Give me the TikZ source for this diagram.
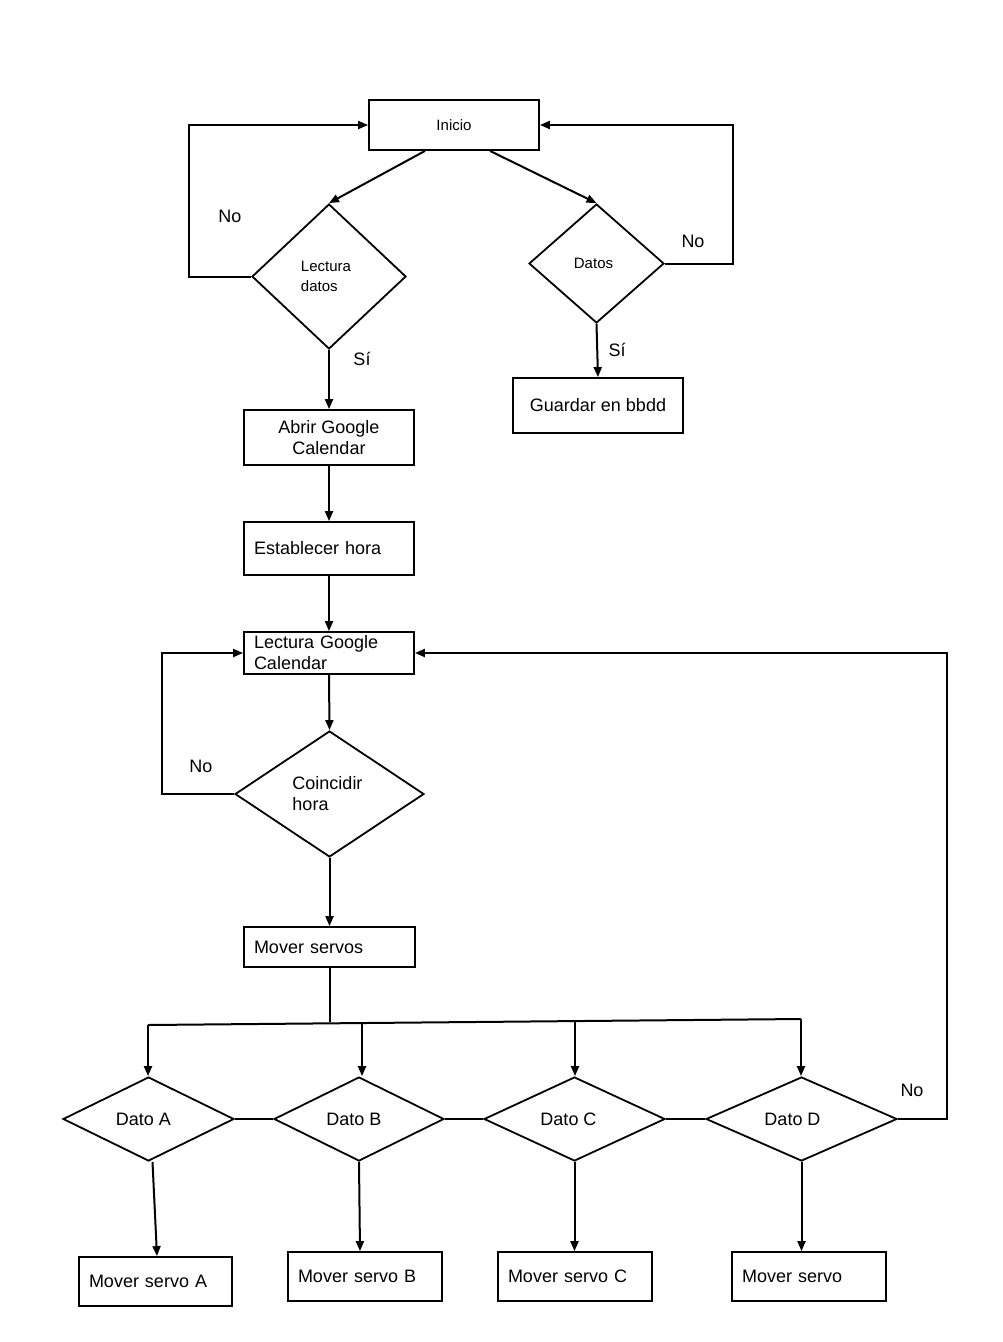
\documentclass[tikz,border=0pt]{standalone}
\usepackage{fontspec}
\setmainfont{Liberation Sans}
\usetikzlibrary{shapes.geometric,arrows.meta}
\newcommand\bigf{\fontsize{18}{21}\selectfont}
\newcommand\smallf{\fontsize{15}{20}\selectfont}
\begin{document}
\begin{tikzpicture}[x=1pt,y=-1pt,
  ln/.style={line width=2pt},
  arr/.style={ln, -{Triangle[length=10pt,width=8pt]}},
  box/.style={draw, rectangle, line width=1.8pt, inner sep=0pt, align=center, font=\bigf},
  lbox/.style={box, align=left, text width=#1, inner xsep=10pt, inner ysep=0pt},
  dia/.style={draw, diamond, line width=1.8pt, inner sep=0pt},
  lab/.style={font=\bigf, inner sep=0pt}
]
\useasboundingbox (0,0) rectangle (1002,1342);

% top part
\node[box, minimum width=170pt, minimum height=50pt, font=\smallf] (ini) at (454,125) {Inicio};
\node[dia, minimum width=154pt, minimum height=145pt,
      label={[font=\smallf, align=left, xshift=-3pt]center:Lectura\\datos}] (ld) at (329,276.5) {};
\node[dia, minimum width=135pt, minimum height=119pt,
      label={[font=\smallf, xshift=-3pt]center:Datos}] (dt) at (596.5,263.5) {};
\node[box, minimum width=170pt, minimum height=55pt] (gu) at (598,405.5) {Guardar en bbdd};
\node[box, minimum width=170pt, minimum height=55pt] (ab) at (329,437.5) {Abrir Google\\Calendar};
\node[lbox=150pt, minimum height=53pt] (es) at (329,548.5) {Establecer hora};
\node[lbox=150pt, minimum height=42pt] (lgc) at (329,653) {Lectura Google\\Calendar};
\node[dia, minimum width=189pt, minimum height=126pt,
      label={[font=\bigf, align=left, xshift=-2pt]center:Coincidir\\hora}] (coin) at (329.5,794) {};
\node[lbox=151pt, minimum height=40pt] (ms) at (329.5,947) {Mover servos};

% decision row
\node[dia, minimum width=171pt, minimum height=84pt,
      label={[font=\bigf, xshift=-5pt]center:Dato A}] (dA) at (148.5,1119) {};
\node[dia, minimum width=170pt, minimum height=84pt,
      label={[font=\bigf, xshift=-5pt]center:Dato B}] (dB) at (359,1119) {};
\node[dia, minimum width=181pt, minimum height=84pt,
      label={[font=\bigf, xshift=-6pt]center:Dato C}] (dC) at (574.5,1119) {};
\node[dia, minimum width=191pt, minimum height=84pt,
      label={[font=\bigf, xshift=-9pt]center:Dato D}] (dD) at (801.5,1119) {};

% servo boxes
\node[lbox=133pt, minimum height=49pt] (sA) at (155.5,1281.5) {Mover servo A};
\node[lbox=134pt, minimum height=49pt] (sB) at (365,1276.5) {Mover servo B};
\node[lbox=134pt, minimum height=49pt] (sC) at (575,1276.5) {Mover servo C};
\node[lbox=134pt, minimum height=49pt] (sD) at (809,1276.5) {Mover servo};

% labels
\node[lab] (n1) at (230,216) {No};
\node[lab] (n2) at (693,241) {No};
\node[lab] (y1) at (362,359) {Sí};
\node[lab] (y2) at (617,350) {Sí};
\node[lab] (n3) at (201,766) {No};
\node[lab] (n4) at (912,1090) {No};

% connectors top
\draw[arr] ([xshift=-29pt]ini.south) -- (ld.north);
\draw[arr] ([xshift=36pt]ini.south) -- (dt.north);
\draw[arr] (ld.west) -- ++(-62,0) |- (ini.west);
\draw[arr] (dt.east) -- ++(68,0) |- (ini.east);
\draw[arr] (dt.south) -- (gu.north);
\draw[arr] (ld.south) -- (ab.north);
\draw[arr] (ab.south) -- (es.north);
\draw[arr] (es.south) -- (lgc.north);
\draw[arr] (lgc.south) -- (coin.north);
\draw[arr] (coin.west) -- ++(-72,0) |- (lgc.west);
\draw[arr] (coin.south) -- (ms.north);

% bus
\coordinate (bM) at (329.5,1022);
\coordinate (bA) at (148,1025);
\coordinate (bB) at (362,1023.4);
\coordinate (bC) at (575,1021.5);
\coordinate (bD) at (801,1019);
\draw[ln] (ms.south) -- (bM);
\draw[ln] (bA) -- (bD);
\draw[arr] (bA) -- (bA |- dA.north);
\draw[arr] (bB) -- (bB |- dB.north);
\draw[arr] (bC) -- (bC |- dC.north);
\draw[arr] (bD) -- (bD |- dD.north);

% chain of decisions
\draw[ln] (dA.east) -- (dB.west);
\draw[ln] (dB.east) -- (dC.west);
\draw[ln] (dC.east) -- (dD.west);
\draw[arr] (dD.east) -- ++(49,0) |- (lgc.east);

% to servo boxes
\draw[arr] ([xshift=4pt]dA.south) -- ([xshift=1.5pt]sA.north);
\draw[arr] (dB.south) -- ([xshift=-5pt]sB.north);
\draw[arr] (dC.south) -- (dC.south |- sC.north);
\draw[arr] (dD.south) -- (dD.south |- sD.north);
\end{tikzpicture}
\end{document}
